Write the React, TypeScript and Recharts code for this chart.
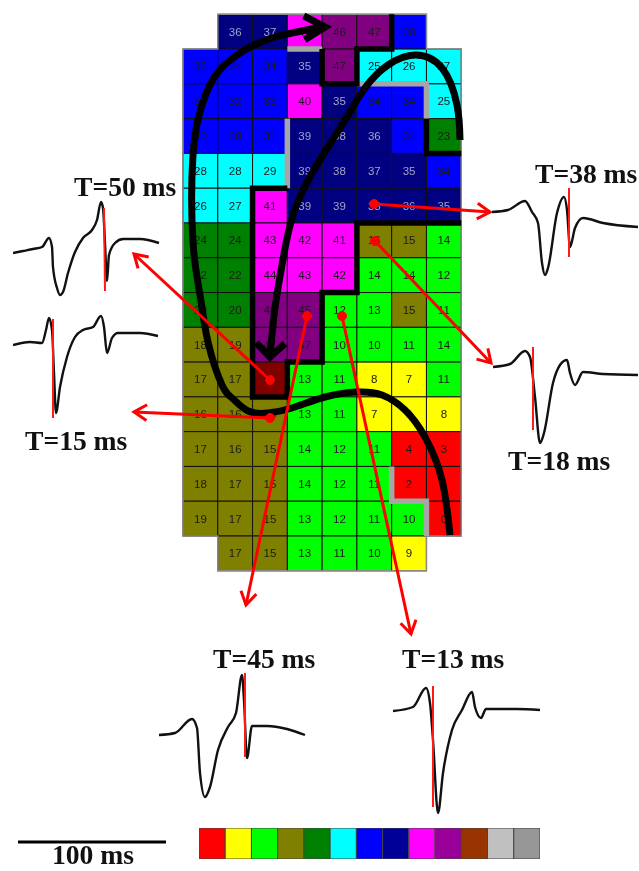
import { Bar, BarChart, ComposedChart, Line, LineChart, ReferenceLine, Scatter, XAxis, YAxis } from "recharts";

type Pt = { x: number; y: number };

const PAGE_W = 639;
const PAGE_H = 871;

// activation time (ms) per electrode, null = no electrode
const activationTimes: (number | null)[][] = [
  [null, 36, 37, 44, 46, 47, 30, null],
  [32, 34, 34, 35, 47, 25, 26, 27],
  [32, 32, 33, 40, 35, 34, 34, 25],
  [30, 30, 31, 39, 38, 36, 34, 23],
  [28, 28, 29, 39, 38, 37, 35, 34],
  [26, 27, 41, 39, 39, 38, 36, 35],
  [24, 24, 43, 42, 41, 16, 15, 14],
  [22, 22, 44, 43, 42, 14, 14, 12],
  [20, 20, 46, 45, 12, 13, 15, 11],
  [18, 19, 47, 47, 10, 10, 11, 14],
  [17, 17, 50, 13, 11, 8, 7, 11],
  [16, 16, 15, 13, 11, 7, 6, 8],
  [17, 16, 15, 14, 12, 11, 4, 3],
  [18, 17, 15, 14, 12, 11, 2, 1],
  [19, 17, 15, 13, 12, 11, 10, 0],
  [null, 17, 15, 13, 11, 10, 9, null],
];

// one colour per 5 ms bin
const binColors = ["#ff0000", "#ffff00", "#00ff00", "#808000", "#008000", "#00ffff", "#0000ff", "#000080", "#ff00ff", "#800080", "#800000"];
const legendColors = ["#ff0000", "#ffff00", "#00ff00", "#808000", "#008000", "#00ffff", "#0000ff", "#000099", "#ff00ff", "#990099", "#993300", "#c0c0c0", "#969696"];

// grid outline and conduction block lines, in electrode grid units
const outline: [number, number][] = [[1, 0], [7, 0], [7, 1], [8, 1], [8, 15], [7, 15], [7, 16], [1, 16], [1, 15], [0, 15], [0, 1], [1, 1], [1, 0]];
const blackWalls: [number, number][][] = [
  [[6, 0], [6, 1], [5, 1], [5, 2], [4, 2], [4, 1]],
  [[7, 3], [7, 4], [8, 4]],
  [[3, 5], [2, 5], [2, 11], [3, 11], [3, 10], [4, 10], [4, 8], [5, 8], [5, 6], [8, 6]],
];
const grayWalls: [number, number][][] = [
  [[3, 1], [4, 1]],
  [[5, 2], [7, 2], [7, 3]],
  [[3, 3], [3, 5]],
  [[6, 13], [6, 14], [7, 14], [7, 15]],
];

// wavefront paths, in page pixels
const frontLeft: [number, number][] = [[450, 535], [442, 480], [425, 437], [405, 410], [382, 395], [357, 392], [325, 397], [292, 408], [268, 413], [248, 411], [232, 398], [222, 385], [208, 342], [200, 295], [193, 242], [193, 155], [202, 105], [218, 72], [245, 50], [275, 37], [322, 27]];
const frontRight: [number, number][] = [[460, 140], [457, 105], [442, 68], [415, 55], [388, 65], [365, 88], [342, 125], [315, 168], [293, 215], [282, 265], [275, 308], [270, 355]];

// red pointers: electrode -> electrogram
const pointers: [number, number, number, number][] = [
  [270, 380, 134, 254],
  [270, 418, 134, 412],
  [374, 204, 490, 212],
  [375, 241, 491, 363],
  [307, 316, 246, 605],
  [342, 316, 411, 634],
];

// electrograms: 1 sample = 1 px on the 100 ms scale bar
const trace50T = [0, 10, 20, 29, 36, 39, 40, 44, 47, 50, 55, 62, 70, 79, 84, 88, 90, 92, 94, 96, 102, 110, 127, 146];
const trace50V = [-3, -1, 1, 3, 12, 3, -17, -38, -45, -42, -23, -2, 12, 20, 30, 48, 42, 7, -31, -5, 7, 11, 11, 7];
const trace15T = [0, 17, 29, 33, 36, 39, 41, 43, 47, 54, 62, 70, 80, 88, 91, 94, 99, 105, 127, 145];
const trace15V = [-1, 2, 1, 14, 26, 14, -29, -69, -43, -13, 7, 14, 17, 28, 17, -9, 6, 11, 11, 8];
const trace38T = [0, 16, 33, 40, 46, 50, 53, 56, 65, 72, 75, 78, 83, 91, 111, 146];
const trace38V = [0, 2, 11, 0, -11, -51, -63, -56, -1, 15, 2, -35, -16, -6, -11, -15];
const trace18T = [0, 17, 32, 37, 42, 47, 51, 60, 67, 74, 77, 82, 90, 110, 145];
const trace18V = [0, 3, 16, 10, -30, -76, -66, -16, 2, 7, -6, -18, -5, -7, -8];
const trace45T = [0, 16, 33, 38, 41, 46, 51, 59, 69, 77, 83, 85, 88, 93, 108, 128, 146];
const trace45V = [0, 2, 16, 7, -38, -62, -52, -15, 8, 22, 60, 35, -23, 9, 9, 6, 0];
const trace13T = [0, 20, 33, 37, 40, 45, 50, 59, 69, 79, 82, 88, 93, 124, 147];
const trace13V = [-1, 3, 22, 7, -30, -103, -63, -20, 0, 18, 3, -8, 1, 1, 0];

const traces = [
  { id: "t50", t: trace50T, v: trace50V, left: 13, base: 250, mark: [91, 42, 92, -41] },
  { id: "t15", t: trace15T, v: trace15V, left: 13, base: 344, mark: [40, 25, 40, -74] },
  { id: "t38", t: trace38T, v: trace38V, left: 492, base: 212, mark: [77, 24, 77, -45] },
  { id: "t18", t: trace18T, v: trace18V, left: 493, base: 367, mark: [40, 20, 40, -63] },
  { id: "t45", t: trace45T, v: trace45V, left: 159, base: 735, mark: [86, 62, 86, -22] },
  { id: "t13", t: trace13T, v: trace13V, left: 393, base: 710, mark: [40, 24, 40, -97] },
];

const labels = [
  { text: "T=50 ms", x: 74, y: 196 },
  { text: "T=38 ms", x: 535, y: 183 },
  { text: "T=15 ms", x: 25, y: 450 },
  { text: "T=18 ms", x: 508, y: 470 },
  { text: "T=45 ms", x: 213, y: 668 },
  { text: "T=13 ms", x: 402, y: 668 },
  { text: "100 ms", x: 52, y: 864 },
];

// the grid sits at x 183..461, y 14.3..571
const CELL = 34.78;
const cellX = [-183 / CELL, (PAGE_W - 183) / CELL];
const cellY = [-14.3 / CELL, (PAGE_H - 14.3) / CELL];

const cells = activationTimes.flatMap((row, r) =>
  row.flatMap((value, c) => (value === null ? [] : [{ x: c + 0.5, y: r + 0.5, value }]))
);

const toPts = (pts: [number, number][]): Pt[] => pts.map(([x, y]) => ({ x, y }));

function arrowHead(fromX: number, fromY: number, tipX: number, tipY: number, len: number, spread: number): Pt[] {
  const a = Math.atan2(fromY - tipY, fromX - tipX);
  return [
    { x: tipX + len * Math.cos(a + spread), y: tipY + len * Math.sin(a + spread) },
    { x: tipX, y: tipY },
    { x: tipX + len * Math.cos(a - spread), y: tipY + len * Math.sin(a - spread) },
  ];
}

function CellShape(props: any) {
  const { cx, cy, payload } = props;
  const fill = binColors[Math.floor(payload.value / 5)];
  const textFill = fill === "#000080" ? "#a4a4c4" : "#1a1a1a";
  return (
    <g>
      <rect x={cx - CELL / 2} y={cy - CELL / 2} width={CELL} height={CELL} fill={fill} stroke="#111" strokeWidth={1} />
      <text x={cx} y={cy + 4} textAnchor="middle" fontSize={11.5} fontFamily="Liberation Sans" fill={textFill}>{payload.value}</text>
    </g>
  );
}

function LabelShape(props: any) {
  const { cx, cy, payload } = props;
  return <text x={cx} y={cy} fontSize={27.6} fontWeight="bold" fontFamily="Liberation Serif" fill="#111">{payload.text}</text>;
}

const layer: React.CSSProperties = { position: "absolute", left: 0, top: 0 };
const noMargin = { top: 0, right: 0, bottom: 0, left: 0 };
const legendRow = [Object.fromEntries(legendColors.map((_, i) => ["s" + i, 1]))];

function Trace({ t, v, left, base, mark }: { t: number[]; v: number[]; left: number; base: number; mark: number[] }) {
  const data = t.map((time, i) => ({ t: time, v: v[i] }));
  return (
    <div style={{ position: "absolute", left, top: base - 70 }}>
      <LineChart width={150} height={180} data={data} margin={noMargin}>
        <XAxis type="number" dataKey="t" domain={[0, 150]} hide />
        <YAxis type="number" domain={[-110, 70]} hide />
        <Line dataKey="v" type="monotone" stroke="#111" strokeWidth={2.4} strokeLinejoin="round" dot={false} isAnimationActive={false} />
        <ReferenceLine segment={[{ x: mark[0], y: mark[1] }, { x: mark[2], y: mark[3] }]} stroke="#ff1a1a" strokeWidth={2} />
      </LineChart>
    </div>
  );
}

export default function App() {
  return (
    <div style={{ position: "absolute", left: 0, top: 0, width: PAGE_W, height: PAGE_H, background: "#fff", overflow: "hidden", filter: "blur(0.5px)" }}>
      {/* electrode grid */}
      <div style={layer}>
        <ComposedChart width={PAGE_W} height={PAGE_H} margin={noMargin}>
          <XAxis type="number" dataKey="x" domain={cellX} allowDataOverflow hide />
          <YAxis type="number" dataKey="y" domain={cellY} allowDataOverflow reversed hide />
          <Scatter data={cells} shape={CellShape} isAnimationActive={false} />
        </ComposedChart>
      </div>
      {/* outline and block lines */}
      <div style={layer}>
        <ComposedChart width={PAGE_W} height={PAGE_H} margin={noMargin}>
          <XAxis type="number" dataKey="x" domain={cellX} allowDataOverflow hide />
          <YAxis type="number" dataKey="y" domain={cellY} allowDataOverflow reversed hide />
          <Line data={toPts(outline)} dataKey="y" type="linear" stroke="#8a8a8a" strokeWidth={1.5} dot={false} isAnimationActive={false} />
          {grayWalls.map((w, i) => (
            <Line key={"g" + i} data={toPts(w)} dataKey="y" type="linear" stroke="#a6a6a6" strokeWidth={5.5} dot={false} isAnimationActive={false} />
          ))}
          {blackWalls.map((w, i) => (
            <Line key={"b" + i} data={toPts(w)} dataKey="y" type="linear" stroke="#000" strokeWidth={5.5} dot={false} isAnimationActive={false} />
          ))}
        </ComposedChart>
      </div>
      {/* wavefronts, pointers, text */}
      <div style={layer}>
        <ComposedChart width={PAGE_W} height={PAGE_H} margin={noMargin}>
          <XAxis type="number" dataKey="x" domain={[0, PAGE_W]} allowDataOverflow hide />
          <YAxis type="number" dataKey="y" domain={[0, PAGE_H]} allowDataOverflow reversed hide />
          <Line data={toPts(frontLeft)} dataKey="y" type="natural" stroke="#000" strokeWidth={7} dot={false} isAnimationActive={false} />
          <Line data={toPts(frontRight)} dataKey="y" type="natural" stroke="#000" strokeWidth={7} dot={false} isAnimationActive={false} />
          <Line data={arrowHead(275, 29, 325, 27, 24, 0.52)} dataKey="y" type="linear" stroke="#000" strokeWidth={7} dot={false} isAnimationActive={false} />
          <Line data={arrowHead(271, 330, 270, 357, 20, 0.8)} dataKey="y" type="linear" stroke="#000" strokeWidth={7} dot={false} isAnimationActive={false} />
          {pointers.map(([x1, y1, x2, y2], i) => (
            <Line key={"p" + i} data={[{ x: x1, y: y1 }, { x: x2, y: y2 }]} dataKey="y" type="linear" stroke="#ff0000" strokeWidth={3} dot={false} isAnimationActive={false} />
          ))}
          {pointers.map(([x1, y1, x2, y2], i) => (
            <Line key={"h" + i} data={arrowHead(x1, y1, x2, y2, 15, 0.55)} dataKey="y" type="linear" stroke="#ff0000" strokeWidth={3} dot={false} isAnimationActive={false} />
          ))}
          {pointers.map(([x1, y1], i) => (
            <Line key={"d" + i} data={[{ x: x1, y: y1 }]} dataKey="y" stroke="#ff0000" dot={{ r: 4.5, fill: "#ff0000", stroke: "#ff0000" }} isAnimationActive={false} />
          ))}
          <ReferenceLine segment={[{ x: 18, y: 842 }, { x: 166, y: 842 }]} stroke="#000" strokeWidth={3} />
          <Scatter data={labels} shape={LabelShape} isAnimationActive={false} />
        </ComposedChart>
      </div>
      {traces.map((tr) => (
        <Trace key={tr.id} t={tr.t} v={tr.v} left={tr.left} base={tr.base} mark={tr.mark} />
      ))}
      {/* colour key */}
      <div style={{ position: "absolute", left: 199, top: 828 }}>
        <BarChart width={341} height={31} data={legendRow} layout="vertical" margin={noMargin} barCategoryGap={0}>
          <XAxis type="number" domain={[0, 13]} hide />
          <YAxis type="category" hide />
          {legendColors.map((color, i) => (
            <Bar key={color} dataKey={"s" + i} stackId="key" fill={color} stroke="#444" strokeWidth={1} isAnimationActive={false} />
          ))}
        </BarChart>
      </div>
    </div>
  );
}
